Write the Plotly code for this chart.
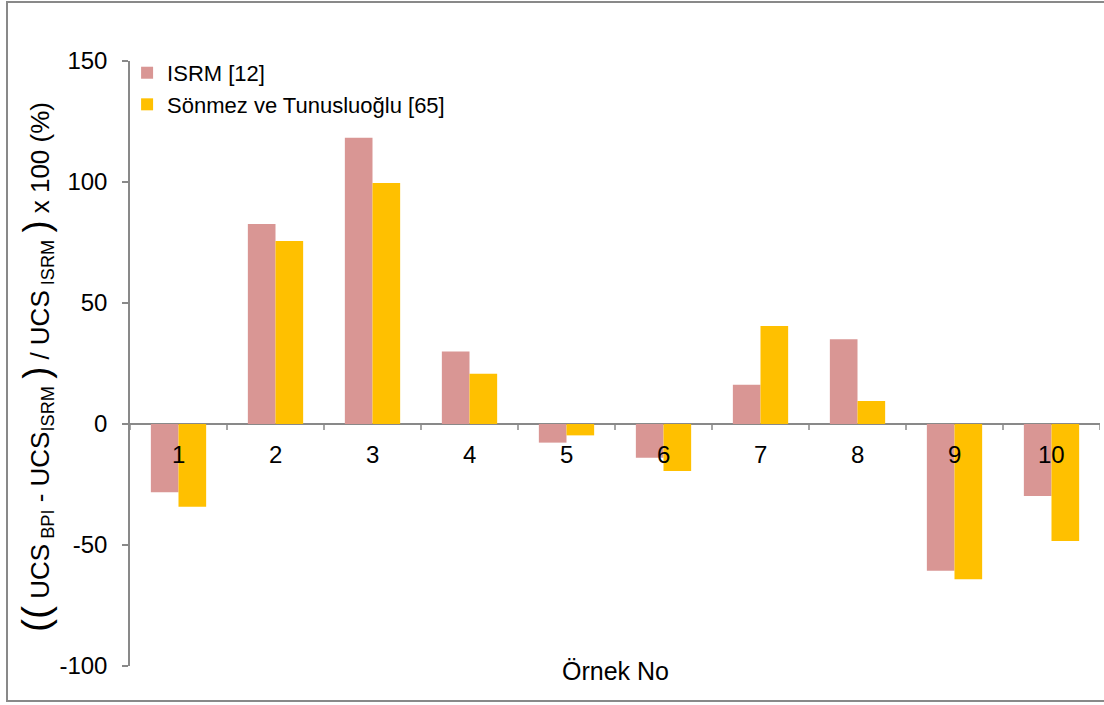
import plotly.graph_objects as go

# Sample numbers and percentage deviations of UCS estimates
samples = ["1", "2", "3", "4", "5", "6", "7", "8", "9", "10"]
isrm = [-28.2, 82.6, 118.3, 30.0, -7.7, -13.9, 16.2, 35.0, -60.6, -29.8]
sonmez = [-34.2, 75.6, 99.6, 20.8, -4.7, -19.4, 40.5, 9.5, -64.2, -48.3]

series_names = ["ISRM [12]", "Sönmez ve Tunusluoğlu [65]"]
series_colors = ["#D99694", "#FFC000"]
y_ticks = [-100, -50, 0, 50, 100, 150]

FONT = "Liberation Sans, Arial, sans-serif"
AXIS_GRAY = "#898989"

x_pos = list(range(1, len(samples) + 1))

fig = go.Figure()
for name, vals, color in zip(series_names, [isrm, sonmez], series_colors):
    fig.add_trace(go.Bar(
        x=x_pos, y=vals, name=name,
        marker=dict(color=color, line=dict(width=0)),
    ))

# Category labels sit just under the zero line
annotations = []
for xp, lab in zip(x_pos, samples):
    annotations.append(dict(
        x=xp, y=0, xref="x", yref="y", text=lab, showarrow=False,
        yanchor="top", yshift=-15, font=dict(size=24, color="#000000", family=FONT),
    ))

# X axis title
annotations.append(dict(
    x=0.5, y=0, xref="paper", yref="paper", text="Örnek No", showarrow=False,
    yanchor="middle", yshift=-5, font=dict(size=25, color="#000000", family=FONT),
))

# Rotated Y axis title with enlarged brackets and subscripts
big = "<span style='font-size:39px'>(</span>"
bigc = "<span style='font-size:36px'>)</span>"
ytitle = (big + big + " UCS<sub> BPI</sub> - UCS<sub>ISRM</sub> " + bigc +
          " / UCS<sub> ISRM</sub> " + bigc + " x 100 (%)")
annotations.append(dict(
    x=-0.097, y=0.494, xref="paper", yref="paper", text=ytitle, showarrow=False,
    textangle=-90, xanchor="center", yanchor="middle",
    font=dict(size=26, color="#000000", family=FONT),
))

# Category boundary tick marks hanging below the zero line
shapes = []
for i in range(len(samples) + 1):
    shapes.append(dict(
        type="line", xref="x", yref="y", ysizemode="pixel", yanchor=0,
        x0=i + 0.5, x1=i + 0.5, y0=0, y1=-6,
        line=dict(color=AXIS_GRAY, width=1.5),
    ))

# Outer chart frame
shapes.append(dict(
    type="rect", xref="paper", yref="paper",
    x0=-0.1268, x1=1.02, y0=-0.0579, y1=1.0975,
    line=dict(color=AXIS_GRAY, width=2), fillcolor="rgba(0,0,0,0)", layer="below",
))

fig.update_layout(
    width=1104, height=705,
    margin=dict(l=130, r=4, t=61, b=39),
    paper_bgcolor="white", plot_bgcolor="white",
    barmode="group", bargap=0.43, bargroupgap=0,
    font=dict(family=FONT, size=20, color="#000000"),
    showlegend=True,
    legend=dict(
        x=-0.003, y=1.015, xanchor="left", yanchor="top",
        font=dict(size=22, family=FONT, color="#000000"),
        bgcolor="rgba(0,0,0,0)", itemwidth=30, tracegroupgap=0,
    ),
    xaxis=dict(
        range=[0.5, 10.5], showticklabels=False, showgrid=False, zeroline=False,
        showline=False, ticks="", fixedrange=True,
    ),
    yaxis=dict(
        range=[-100, 150], tickvals=y_ticks, ticktext=[str(v) for v in y_ticks],
        showgrid=False, zeroline=True, zerolinecolor=AXIS_GRAY, zerolinewidth=1.5,
        showline=True, linecolor=AXIS_GRAY, linewidth=1.5,
        ticks="outside", ticklen=6, tickcolor=AXIS_GRAY, tickwidth=1.5,
        tickfont=dict(size=24, family=FONT, color="#000000"), ticklabelstandoff=10,
    ),
    annotations=annotations,
    shapes=shapes,
)

fig.write_html("out.html")
